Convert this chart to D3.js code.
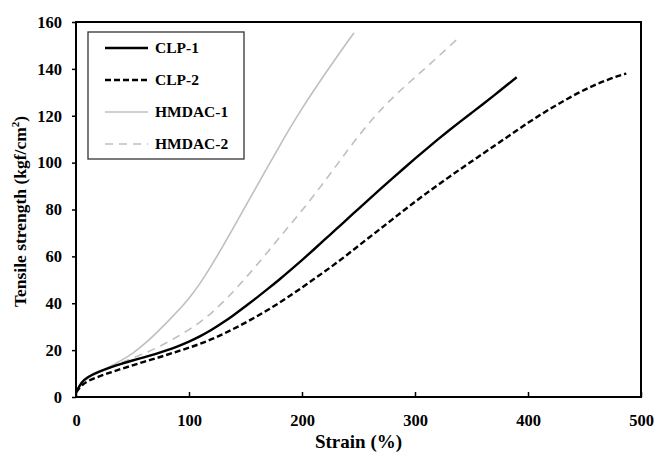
<!DOCTYPE html>
<html>
<head>
<meta charset="utf-8">
<script src="https://cdn.jsdelivr.net/npm/d3@7"></script>
<style>
  body { margin: 0; background: #fff; }
  text { font-family: "Liberation Serif", "Times New Roman", serif; font-weight: bold; }
</style>
</head>
<body>
<div id="chart"></div>
<script>
// values (strain %, tensile kgf/cm2)
const clp1 = [[0,2],[5,6.5],[10,8.5],[20,10.8],[30,12.6],[40,14.2],[50,15.6],[60,16.9],[70,18.3],[80,19.9],[90,21.6],
  [100,23.6],[110,25.9],[120,28.6],[130,31.7],[140,35.1],[150,38.7],[160,42.4],[170,46.2],[180,50.1],[190,54.2],
  [200,58.4],[210,62.7],[220,67.1],[230,71.5],[240,75.9],[250,80.3],[260,84.7],[270,89],[280,93.3],[290,97.5],
  [300,101.7],[310,105.8],[320,109.8],[330,113.7],[340,117.5],[350,121.2],[360,124.9],[370,128.7],[380,132.6],[390,136.4]];
const clp2 = [[0,2],[5,5],[10,6.8],[20,8.7],[30,10.4],[40,12],[50,13.5],[60,15],[70,16.4],[80,17.9],[90,19.5],[100,21],
  [110,22.7],[120,24.6],[130,26.8],[140,29.2],[150,31.7],[160,34.4],[170,37.2],[180,40.2],[190,43.4],[200,46.7],
  [210,50.1],[220,53.5],[230,57],[240,60.7],[250,64.5],[260,68.3],[270,72],[280,75.8],[290,79.6],[300,83.3],
  [310,86.9],[320,90.4],[330,93.8],[340,97.2],[350,100.5],[360,103.8],[370,107.1],[380,110.4],[390,113.7],[400,117],
  [410,120.1],[420,123.1],[430,125.9],[440,128.6],[450,131.1],[460,133.3],[470,135.3],[480,137],[487,138]];
const hmdac1 = [[0,2],[5,6],[10,8],[20,10.5],[30,13],[40,15.6],[50,18.5],[60,22.3],[70,26.8],[80,31.6],[90,36.6],
  [100,42],[110,48.5],[120,56.2],[130,64.3],[140,72.8],[150,81.4],[160,90],[170,98.5],[180,107],[190,115.3],
  [200,123.1],[210,130.5],[220,137.6],[230,144.6],[240,151.4],[246,155.3]];
const hmdac2 = [[0,2],[5,6],[10,8],[20,10.5],[30,12.6],[40,14.6],[50,16.5],[60,18.5],[70,20.6],[80,23.1],[90,25.8],
  [100,28.7],[110,32],[120,35.8],[130,40.4],[140,45.4],[150,50.7],[160,56.3],[170,62.1],[180,68],[190,73.8],
  [200,79.6],[210,85.7],[220,92],[230,98.5],[240,105.1],[250,111.4],[260,117.3],[270,122.7],[280,127.6],[290,132.1],
  [300,136.4],[310,140.7],[320,145],[330,149.4],[340,153.9]];

const seriesNames = ["CLP-1", "CLP-2", "HMDAC-1", "HMDAC-2"];
const seriesData = [clp1, clp2, hmdac1, hmdac2];
const xTicks = [0, 100, 200, 300, 400, 500];
const yTicks = [0, 20, 40, 60, 80, 100, 120, 140, 160];

const styles = [
  {color: "#000", width: 2.4, dash: null},
  {color: "#000", width: 2.4, dash: "6,3"},
  {color: "#bfbfbf", width: 1.6, dash: null},
  {color: "#bfbfbf", width: 1.6, dash: "8,6"}
];

const W = 655, H = 454;
const margin = {top: 22, right: 14, bottom: 57, left: 76};
const width = W - margin.left - margin.right,
    height = H - margin.top - margin.bottom;

const svg = d3.select("#chart").append("svg")
    .attr("width", W)
    .attr("height", H);

const g = svg.append("g")
    .attr("transform", "translate(" + margin.left + "," + margin.top + ")");

const x = d3.scaleLinear().domain([0, 500]).range([0, width]);
const y = d3.scaleLinear().domain([0, 160]).range([height, 0]);

// y axis: ticks outside
const yAxis = g.append("g")
    .call(d3.axisLeft(y).tickValues(yTicks).tickSize(4).tickPadding(10));
yAxis.selectAll("text").attr("font-size", 16.5).attr("fill", "#000");
yAxis.selectAll("line").attr("stroke", "#000").attr("stroke-width", 1.5);
yAxis.select(".domain").remove();

// x axis: ticks inside
const xAxis = g.append("g")
    .attr("transform", "translate(0," + height + ")")
    .call(d3.axisBottom(x).tickValues(xTicks).tickSize(-5).tickPadding(17));
xAxis.selectAll("text").attr("font-size", 16.5).attr("fill", "#000");
xAxis.selectAll("line").attr("stroke", "#000").attr("stroke-width", 1.5);
xAxis.select(".domain").remove();

const line = d3.line()
    .x(d => x(d[0]))
    .y(d => y(d[1]))
    .curve(d3.curveBasis);

// draw gray first so black stays on top
[2, 3, 0, 1].forEach(function (i) {
    g.append("path")
        .datum(seriesData[i])
        .attr("fill", "none")
        .attr("stroke", styles[i].color)
        .attr("stroke-width", styles[i].width)
        .attr("stroke-dasharray", styles[i].dash)
        .attr("d", line);
});

// plot frame
g.append("rect")
    .attr("width", width)
    .attr("height", height)
    .attr("fill", "none")
    .attr("stroke", "#000")
    .attr("stroke-width", 2);

// legend
const legend = svg.append("g").attr("transform", "translate(88,32)");
legend.append("rect")
    .attr("width", 156)
    .attr("height", 127)
    .attr("fill", "#fff")
    .attr("stroke", "#333")
    .attr("stroke-width", 1.3);

seriesNames.forEach(function (name, i) {
    const row = legend.append("g").attr("transform", "translate(0," + (16 + i * 32) + ")");
    row.append("line")
        .attr("x1", 17).attr("x2", 60)
        .attr("stroke", styles[i].color)
        .attr("stroke-width", styles[i].width)
        .attr("stroke-dasharray", styles[i].dash);
    row.append("text")
        .attr("x", 67)
        .attr("dy", "0.35em")
        .attr("font-size", 15.5)
        .text(name);
});

// axis titles
svg.append("text")
    .attr("x", margin.left + width / 2)
    .attr("y", 448)
    .attr("text-anchor", "middle")
    .attr("font-size", 19)
    .text("Strain (%)");

const yt = svg.append("text")
    .attr("transform", "translate(26," + (margin.top + height / 2 + 2) + ") rotate(-90)")
    .attr("text-anchor", "middle")
    .attr("font-size", 17.5);
yt.append("tspan").text("Tensile strength (kgf/cm");
yt.append("tspan").attr("font-size", 11).attr("dy", -7).text("2");
yt.append("tspan").attr("dy", 7).text(")");
</script>
</body>
</html>
